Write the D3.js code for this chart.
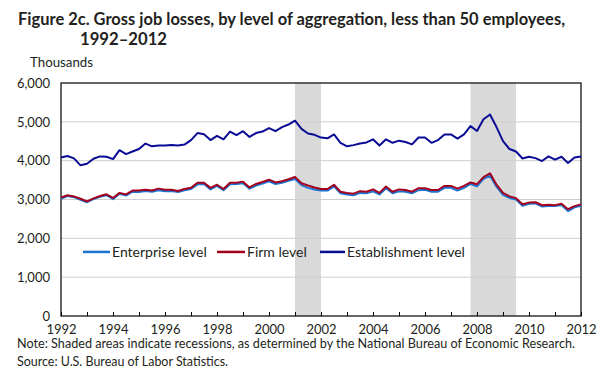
<!DOCTYPE html>
<html>
<head>
<meta charset="utf-8">
<script src="https://cdn.jsdelivr.net/npm/d3@7"></script>
<style>
  html, body { margin: 0; padding: 0; background: #fff; }
  svg { display: block; }
  text { font-family: Lato, "Open Sans", "Noto Sans", sans-serif; fill: #231f20; }
</style>
</head>
<body>
<svg id="chart" width="604" height="373"></svg>
<script>
// ---- Data (thousands), quarterly 1992.00 .. 2012.00 ----
const startYear = 1992;
const quarterStep = 0.25;

const enterprise = [
  3020, 3090, 3060, 2990, 2930, 3010, 3070, 3110, 3010, 3150, 3100, 3200, 3190, 3220, 3200, 3240,
  3210, 3220, 3190, 3240, 3270, 3390, 3400, 3260, 3350, 3240, 3390, 3400,
  3420, 3280, 3360, 3410, 3470, 3400, 3430, 3480, 3530, 3370, 3300, 3260, 3230, 3230, 3340, 3160,
  3130, 3110, 3170, 3160, 3210, 3130, 3290, 3160, 3210, 3200,
  3160, 3240, 3250, 3200, 3200, 3300, 3300, 3230, 3300, 3400, 3340, 3530, 3610, 3330, 3120, 3040,
  3000, 2840, 2890, 2900, 2820, 2830, 2830, 2860, 2700, 2800, 2840
];
const firm = [
  3050, 3110, 3080, 3020, 2950, 3030, 3090, 3135, 3040, 3170, 3130, 3230, 3230, 3250, 3230, 3280,
  3250, 3250, 3220, 3270, 3300, 3430, 3430, 3300, 3380, 3270, 3430, 3430,
  3460, 3310, 3400, 3450, 3510, 3440, 3470, 3520, 3580, 3420, 3360, 3310, 3270, 3270, 3380, 3200,
  3170, 3150, 3215, 3200, 3260, 3170, 3335, 3200, 3260, 3245,
  3200, 3290, 3290, 3245, 3245, 3350, 3350, 3280, 3350, 3440, 3395, 3575, 3675, 3380, 3170, 3080,
  3035, 2880, 2920, 2930, 2855, 2865, 2855, 2890, 2750, 2830, 2875
];
const establishment = [
  4080, 4120, 4060, 3880, 3920, 4050, 4110, 4100, 4040, 4270, 4170, 4235, 4300, 4440, 4370, 4390,
  4390, 4405, 4390, 4415, 4530, 4710, 4680, 4530, 4640, 4550, 4750, 4660,
  4760, 4610, 4710, 4750, 4840, 4760, 4865, 4930, 5030, 4820, 4700, 4665, 4595, 4575, 4675, 4460,
  4370, 4400, 4440, 4470, 4550, 4390, 4550, 4460, 4515, 4480,
  4420, 4595, 4595, 4460, 4530, 4675, 4675, 4570, 4675, 4890, 4765, 5065, 5190, 4865, 4505, 4300,
  4235, 4055, 4100, 4065, 3990, 4110, 4025, 4100, 3940, 4080, 4110
];

const seriesNames = ["Enterprise level", "Firm level", "Establishment level"];
const seriesColors = ["#1c75d2", "#a3001e", "#0b0b95"];
const recessions = [[2001.0, 2002.0], [2007.75, 2009.5]];
const yTicks = [0, 1000, 2000, 3000, 4000, 5000, 6000];
const xLabelYears = [1992, 1994, 1996, 1998, 2000, 2002, 2004, 2006, 2008, 2010, 2012];
const xMinorYears = d3.range(1992, 2013);

const titleLine1 = "Figure 2c. Gross job losses, by level of aggregation, less than 50 employees,";
const titleLine2 = "1992\u20132012";
const unitLabel = "Thousands";
const noteText = "Note: Shaded areas indicate recessions, as determined by the National Bureau of Economic Research.";
const sourceText = "Source: U.S. Bureau of Labor Statistics.";

// ---- Layout ----
const svg = d3.select("#chart");
const plot = { left: 61, right: 581, top: 83, bottom: 316 };

const x = d3.scaleLinear().domain([1992, 2012]).range([plot.left, plot.right]);
const y = d3.scaleLinear().domain([0, 6000]).range([plot.bottom, plot.top]);

const toPoints = arr => arr.map((v, i) => ({ t: startYear + i * quarterStep, v }));
const allSeries = [enterprise, firm, establishment].map(toPoints);

// fit a text to a target width: shrink font if too wide, then exact textLength
function fitText(sel, target, size) {
  sel.style("font-size", size + "px");
  const w = sel.node().getComputedTextLength();
  if (w > target) {
    sel.style("font-size", (size * target / w) + "px");
  }
  sel.attr("textLength", target).attr("lengthAdjust", "spacingAndGlyphs");
  return sel;
}

// Title
fitText(svg.append("text").attr("x", 18).attr("y", 25)
  .style("font-weight", "700").text(titleLine1), 547, 17.5);
fitText(svg.append("text").attr("x", 80).attr("y", 45)
  .style("font-weight", "700").text(titleLine2), 87, 17.5);

// Unit label
fitText(svg.append("text").attr("x", 30).attr("y", 67).text(unitLabel), 63, 13);

// Recession shading
svg.append("g").selectAll("rect").data(recessions).join("rect")
  .attr("x", d => x(d[0])).attr("width", d => x(d[1]) - x(d[0]))
  .attr("y", plot.top).attr("height", plot.bottom - plot.top)
  .attr("fill", "#d9d9d9");

// Gridlines
svg.append("g").selectAll("line").data(yTicks.filter(d => d > 0 && d < 6000)).join("line")
  .attr("x1", plot.left).attr("x2", plot.right)
  .attr("y1", d => y(d)).attr("y2", d => y(d))
  .attr("stroke", "#cfcfcf").attr("stroke-width", 1);

// Y axis labels
const yAxis = d3.axisLeft(y).tickValues(yTicks).tickSize(0).tickPadding(11)
  .tickFormat(d3.format(","));
const gy = svg.append("g").attr("transform", `translate(${plot.left},0)`).call(yAxis);
gy.select(".domain").remove();
gy.selectAll("text").style("font-size", "13px").style("font-family", "Lato, sans-serif")
  .attr("fill", "#231f20");

// X axis (ticks inside, upward)
const xAxis = d3.axisBottom(x).tickValues(xMinorYears).tickSizeInner(-4).tickSizeOuter(0)
  .tickFormat(d => xLabelYears.includes(d) ? String(d) : "").tickPadding(9);
const gx = svg.append("g").attr("transform", `translate(0,${plot.bottom})`).call(xAxis);
gx.select(".domain").remove();
gx.selectAll(".tick line").attr("stroke", "#000");
gx.selectAll("text").style("font-size", "13px").style("font-family", "Lato, sans-serif")
  .attr("fill", "#231f20");

// Frame
svg.append("rect").attr("x", plot.left).attr("y", plot.top)
  .attr("width", plot.right - plot.left).attr("height", plot.bottom - plot.top)
  .attr("fill", "none").attr("stroke", "#000").attr("stroke-width", 1.2);

// Lines
const line = d3.line().x(d => x(d.t)).y(d => y(d.v));
svg.append("g").selectAll("path").data(allSeries).join("path")
  .attr("d", line).attr("fill", "none")
  .attr("stroke", (d, i) => seriesColors[i]).attr("stroke-width", 2)
  .attr("stroke-linejoin", "round");

// Legend
const legendY = y(1650);
const legendItems = [
  { x1: 83, x2: 110, tx: 112 },
  { x1: 217, x2: 245, tx: 247 },
  { x1: 320, x2: 345, tx: 347 }
];
const lg = svg.append("g");
legendItems.forEach((it, i) => {
  lg.append("line").attr("x1", it.x1).attr("x2", it.x2)
    .attr("y1", legendY).attr("y2", legendY)
    .attr("stroke", seriesColors[i]).attr("stroke-width", 2.5);
  lg.append("text").attr("x", it.tx).attr("y", legendY + 5)
    .style("font-size", "14px").text(seriesNames[i]);
});

// Note and source
fitText(svg.append("text").attr("x", 17).attr("y", 348).text(noteText), 558, 13);
fitText(svg.append("text").attr("x", 17).attr("y", 366).text(sourceText), 211, 13);
</script>
</body>
</html>
